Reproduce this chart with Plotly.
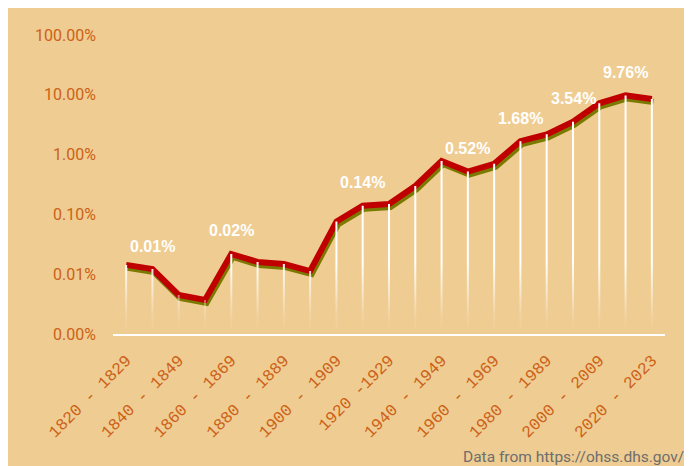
import numpy as np
import plotly.graph_objects as go

# ---------------- data ----------------
periods = ["1820 - 1829", "1830 - 1839", "1840 - 1849", "1850 - 1859", "1860 - 1869",
           "1870 - 1879", "1880 - 1889", "1890 - 1899", "1900 - 1909", "1910 - 1919",
           "1920 -1929", "1930 - 1939", "1940 - 1949", "1950 - 1959", "1960 - 1969",
           "1970 - 1979", "1980 - 1989", "1990 - 1999", "2000 - 2009", "2010 - 2019",
           "2020 - 2023"]
pct_values = [0.0143, 0.0122, 0.0045, 0.0037, 0.0218, 0.0160, 0.0148, 0.0113, 0.076, 0.14,
              0.149, 0.298, 0.78, 0.52, 0.70, 1.68, 2.18, 3.54, 7.2, 9.76, 8.5]
labeled_idx = [1, 4, 9, 13, 15, 17, 19]
tick_idx = list(range(0, 21, 2))
ytick_vals = [0.001, 0.01, 0.1, 1, 10, 100]
ytick_text = ["0.00%", "0.01%", "0.10%", "1.00%", "10.00%", "100.00%"]
source_text = "Data from https://ohss.dhs.gov/"

# ---------------- style ----------------
BG = "#EFCC91"
ORANGE = "#CC6118"
RED = "#C00000"
OLIVE = "#7A7A00"
W, H = 692, 466
L, R, T, B = 105, 35, 27, 140
pw, ph = W - L - R, H - T - B

x = list(range(len(periods)))
fig = go.Figure()

# shadow line on slightly offset axes (x2/y2)
fig.add_trace(go.Scatter(x=x, y=pct_values, mode="lines", xaxis="x2", yaxis="y2",
                         line=dict(color=OLIVE, width=6), hoverinfo="skip", showlegend=False))
# main line (x3/y3, same ranges as main axes, drawn above shadow)
fig.add_trace(go.Scatter(x=x, y=pct_values, mode="lines", customdata=periods,
                         xaxis="x3", yaxis="y3",
                         line=dict(color=RED, width=6), showlegend=False,
                         hovertemplate="%{customdata}: %{y:.2f}%<extra></extra>"))

# drop lines (thin rectangles with vertical gradient)
hw = 1.0 / (pw / len(periods))
dx, dy = [], []
for i, v in zip(x, pct_values):
    dx += [i - hw, i + hw, i + hw, i - hw, i - hw, None]
    dy += [ytick_vals[0], ytick_vals[0], v, v, ytick_vals[0], None]
fig.add_trace(go.Scatter(x=dx, y=dy, mode="lines", fill="toself", line=dict(width=0),
                         xaxis="x3", yaxis="y3",
                         fillgradient=dict(type="vertical",
                                           colorscale=[[0, "rgba(255,255,255,0)"],
                                                       [0.08, "rgba(255,255,255,0.15)"],
                                                       [0.3, "rgba(255,255,255,1)"],
                                                       [1, "rgba(255,255,255,1)"]]),
                         hoverinfo="skip", showlegend=False))

# value labels
for i in labeled_idx:
    fig.add_annotation(x=i, y=np.log10(pct_values[i]), text=f"<b>{pct_values[i]:.2f}%</b>",
                       showarrow=False, yshift=23, yanchor="middle",
                       font=dict(family="Liberation Sans, Arial", size=16, color="white"),
                       xref="x", yref="y")

fig.add_annotation(text=source_text, xref="paper", yref="paper",
                   x=(678 - L) / pw, y=(T + ph - 449) / ph, xanchor="right", yanchor="middle",
                   showarrow=False, font=dict(family="Roboto", size=15.5, color="#6E6E6E"))

xr = [-0.5, len(periods) - 0.5]
yr = [np.log10(ytick_vals[0]), np.log10(ytick_vals[-1])]
sx = 1.5 / (pw / len(periods))
sy = 3.0 / (ph / (yr[1] - yr[0]))

fig.update_layout(
    width=W, height=H,
    margin=dict(l=L, r=R, t=T, b=B),
    paper_bgcolor=BG, plot_bgcolor=BG,
    showlegend=False,
    xaxis=dict(range=xr, tickvals=tick_idx, ticktext=[periods[i] for i in tick_idx],
               tickangle=-45, showgrid=False, zeroline=False,
               showline=True, linecolor="white", linewidth=2,
               ticks="", ticklabelstandoff=8,
               tickfont=dict(family="Liberation Mono", size=16.5, color=ORANGE)),
    yaxis=dict(type="log", range=yr, tickvals=ytick_vals, ticktext=ytick_text,
               showgrid=False, zeroline=False, showline=False, ticks="",
               ticklabelstandoff=16,
               tickfont=dict(family="Roboto", size=16, color=ORANGE)),
    xaxis2=dict(range=[xr[0] - sx, xr[1] - sx], overlaying="x", visible=False),
    yaxis2=dict(type="log", range=[yr[0] + sy, yr[1] + sy], overlaying="y", visible=False),
    xaxis3=dict(range=xr, overlaying="x", visible=False),
    yaxis3=dict(type="log", range=yr, overlaying="y", visible=False),
)

fig.write_html("out.html")
